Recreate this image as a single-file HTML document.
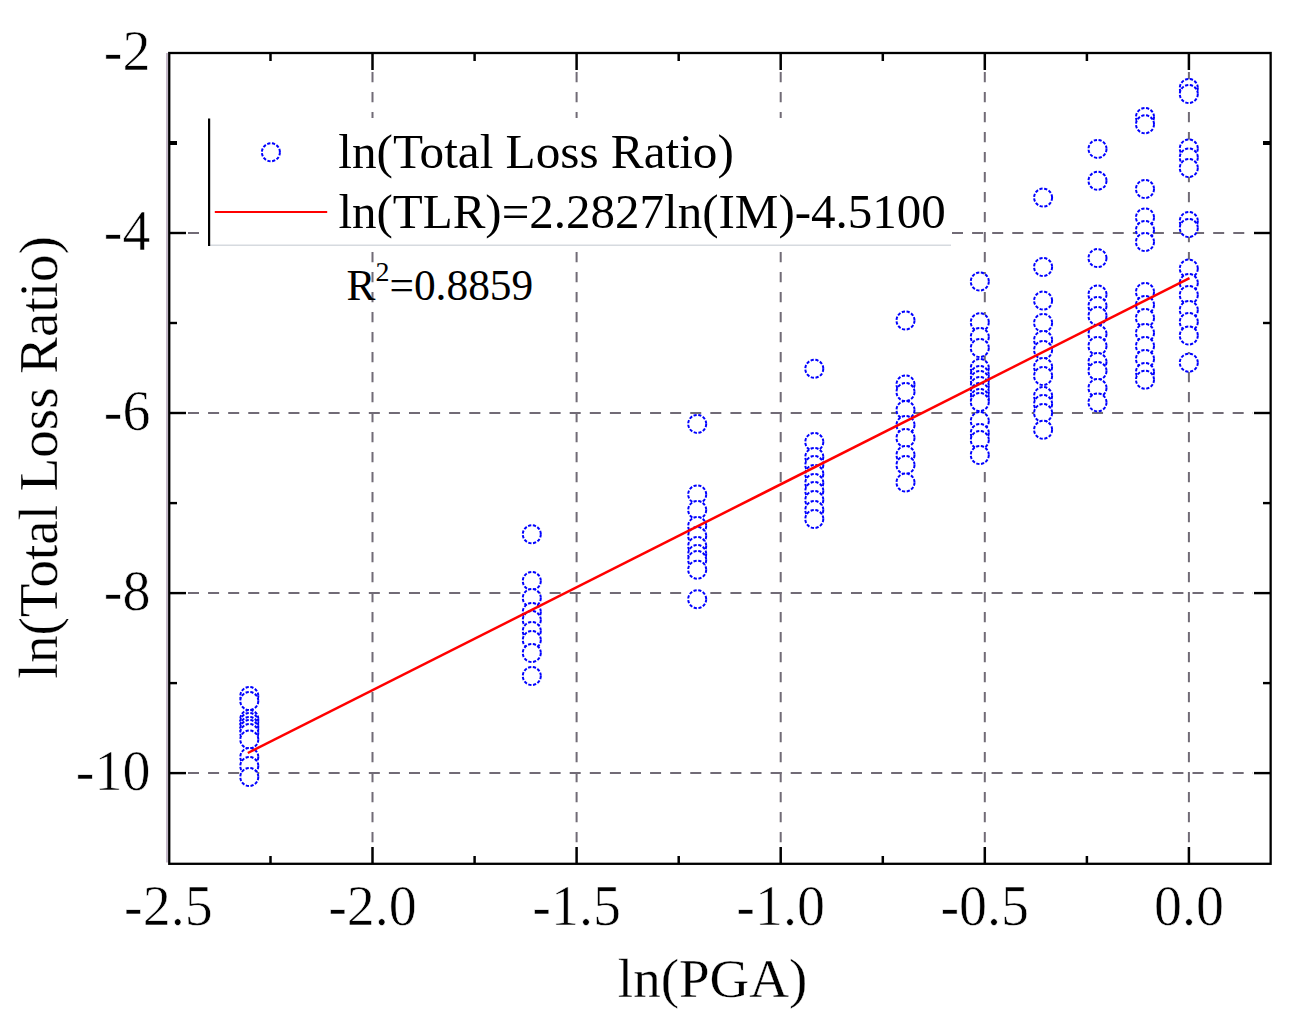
<!DOCTYPE html>
<html><head><meta charset="utf-8"><style>
html,body{margin:0;padding:0;background:#fff;width:1304px;height:1026px;overflow:hidden;}
svg{display:block;}
</style></head><body>
<svg width="1304" height="1026" viewBox="0 0 1304 1026">
<rect width="100%" height="100%" fill="#ffffff"/>
<line x1="372.5" y1="72" x2="372.5" y2="846" stroke="#716b76" stroke-width="2" stroke-dasharray="10.3 9.7"/>
<line x1="576.6" y1="72" x2="576.6" y2="846" stroke="#716b76" stroke-width="2" stroke-dasharray="10.3 9.7"/>
<line x1="780.7" y1="72" x2="780.7" y2="846" stroke="#716b76" stroke-width="2" stroke-dasharray="10.3 9.7"/>
<line x1="984.8" y1="72" x2="984.8" y2="846" stroke="#716b76" stroke-width="2" stroke-dasharray="10.3 9.7"/>
<line x1="1188.9" y1="72" x2="1188.9" y2="846" stroke="#716b76" stroke-width="2" stroke-dasharray="10.3 9.7"/>
<line x1="188" y1="233.0" x2="199" y2="233.0" stroke="#716b76" stroke-width="2"/>
<line x1="952" y1="233.0" x2="1253" y2="233.0" stroke="#716b76" stroke-width="2" stroke-dasharray="11 9.09"/>
<line x1="188" y1="413.0" x2="1253" y2="413.0" stroke="#716b76" stroke-width="2" stroke-dasharray="11 9.09"/>
<line x1="188" y1="593.1" x2="1253" y2="593.1" stroke="#716b76" stroke-width="2" stroke-dasharray="11 9.09"/>
<line x1="188" y1="773.1" x2="1253" y2="773.1" stroke="#716b76" stroke-width="2" stroke-dasharray="11 9.09"/>
<rect x="209" y="118" width="742" height="127.5" fill="#ffffff"/>
<line x1="210" y1="245.3" x2="951" y2="245.3" stroke="#d6dadf" stroke-width="1.5"/>
<line x1="209.1" y1="118.5" x2="209.1" y2="246" stroke="#000" stroke-width="2.2"/>
<line x1="169" y1="143.0" x2="177" y2="143.0" stroke="#000" stroke-width="4"/>
<line x1="1263" y1="143.0" x2="1271" y2="143.0" stroke="#000" stroke-width="4"/>
<line x1="169" y1="233.0" x2="186" y2="233.0" stroke="#000" stroke-width="2.4"/>
<line x1="1254" y1="233.0" x2="1271" y2="233.0" stroke="#000" stroke-width="2.4"/>
<line x1="169" y1="323.0" x2="177" y2="323.0" stroke="#000" stroke-width="2.4"/>
<line x1="1263" y1="323.0" x2="1271" y2="323.0" stroke="#000" stroke-width="2.4"/>
<line x1="169" y1="413.0" x2="186" y2="413.0" stroke="#000" stroke-width="2.4"/>
<line x1="1254" y1="413.0" x2="1271" y2="413.0" stroke="#000" stroke-width="2.4"/>
<line x1="169" y1="503.1" x2="177" y2="503.1" stroke="#000" stroke-width="2.4"/>
<line x1="1263" y1="503.1" x2="1271" y2="503.1" stroke="#000" stroke-width="2.4"/>
<line x1="169" y1="593.1" x2="186" y2="593.1" stroke="#000" stroke-width="2.4"/>
<line x1="1254" y1="593.1" x2="1271" y2="593.1" stroke="#000" stroke-width="2.4"/>
<line x1="169" y1="683.1" x2="177" y2="683.1" stroke="#000" stroke-width="2.4"/>
<line x1="1263" y1="683.1" x2="1271" y2="683.1" stroke="#000" stroke-width="2.4"/>
<line x1="169" y1="773.1" x2="186" y2="773.1" stroke="#000" stroke-width="2.4"/>
<line x1="1254" y1="773.1" x2="1271" y2="773.1" stroke="#000" stroke-width="2.4"/>
<line x1="270.5" y1="53" x2="270.5" y2="61" stroke="#000" stroke-width="2.5"/>
<line x1="270.5" y1="856" x2="270.5" y2="864" stroke="#000" stroke-width="2.5"/>
<line x1="372.5" y1="53" x2="372.5" y2="70" stroke="#000" stroke-width="2.5"/>
<line x1="372.5" y1="847" x2="372.5" y2="864" stroke="#000" stroke-width="2.5"/>
<line x1="474.6" y1="53" x2="474.6" y2="61" stroke="#000" stroke-width="2.5"/>
<line x1="474.6" y1="856" x2="474.6" y2="864" stroke="#000" stroke-width="2.5"/>
<line x1="576.6" y1="53" x2="576.6" y2="70" stroke="#000" stroke-width="2.5"/>
<line x1="576.6" y1="847" x2="576.6" y2="864" stroke="#000" stroke-width="2.5"/>
<line x1="678.7" y1="53" x2="678.7" y2="61" stroke="#000" stroke-width="2.5"/>
<line x1="678.7" y1="856" x2="678.7" y2="864" stroke="#000" stroke-width="2.5"/>
<line x1="780.7" y1="53" x2="780.7" y2="70" stroke="#000" stroke-width="2.5"/>
<line x1="780.7" y1="847" x2="780.7" y2="864" stroke="#000" stroke-width="2.5"/>
<line x1="882.8" y1="53" x2="882.8" y2="61" stroke="#000" stroke-width="2.5"/>
<line x1="882.8" y1="856" x2="882.8" y2="864" stroke="#000" stroke-width="2.5"/>
<line x1="984.8" y1="53" x2="984.8" y2="70" stroke="#000" stroke-width="2.5"/>
<line x1="984.8" y1="847" x2="984.8" y2="864" stroke="#000" stroke-width="2.5"/>
<line x1="1086.9" y1="53" x2="1086.9" y2="61" stroke="#000" stroke-width="2.5"/>
<line x1="1086.9" y1="856" x2="1086.9" y2="864" stroke="#000" stroke-width="2.5"/>
<line x1="1188.9" y1="53" x2="1188.9" y2="70" stroke="#000" stroke-width="2.5"/>
<line x1="1188.9" y1="847" x2="1188.9" y2="864" stroke="#000" stroke-width="2.5"/>
<line x1="167" y1="53" x2="167" y2="862.5" stroke="#c4b8c8" stroke-width="2"/>
<rect x="169.25" y="53" width="1101.4" height="810.8" fill="none" stroke="#000" stroke-width="2.3"/>
<g fill="#ffffff" stroke="#0000ff" stroke-width="2" stroke-dasharray="3.2 1.6">
<circle cx="249.3" cy="696" r="9"/>
<circle cx="249.3" cy="701" r="9"/>
<circle cx="249.3" cy="719" r="9"/>
<circle cx="249.3" cy="722" r="9"/>
<circle cx="249.3" cy="726" r="9"/>
<circle cx="249.3" cy="729" r="9"/>
<circle cx="249.3" cy="733" r="9"/>
<circle cx="249.3" cy="739.5" r="9"/>
<circle cx="249.3" cy="757" r="9"/>
<circle cx="249.3" cy="766" r="9"/>
<circle cx="249.3" cy="777" r="9"/>
<circle cx="531.8" cy="534.3" r="9"/>
<circle cx="531.8" cy="581" r="9"/>
<circle cx="531.8" cy="598" r="9"/>
<circle cx="531.8" cy="612" r="9"/>
<circle cx="531.8" cy="620" r="9"/>
<circle cx="531.8" cy="631" r="9"/>
<circle cx="531.8" cy="640" r="9"/>
<circle cx="531.8" cy="653" r="9"/>
<circle cx="531.8" cy="676" r="9"/>
<circle cx="697.2" cy="423.9" r="9"/>
<circle cx="697.2" cy="494.4" r="9"/>
<circle cx="697.2" cy="510" r="9"/>
<circle cx="697.2" cy="526" r="9"/>
<circle cx="697.2" cy="536" r="9"/>
<circle cx="697.2" cy="546" r="9"/>
<circle cx="697.2" cy="554" r="9"/>
<circle cx="697.2" cy="560" r="9"/>
<circle cx="697.2" cy="569.7" r="9"/>
<circle cx="697.2" cy="599.2" r="9"/>
<circle cx="814.3" cy="368.8" r="9"/>
<circle cx="814.3" cy="442" r="9"/>
<circle cx="814.3" cy="457" r="9"/>
<circle cx="814.3" cy="465" r="9"/>
<circle cx="814.3" cy="474" r="9"/>
<circle cx="814.3" cy="483" r="9"/>
<circle cx="814.3" cy="491" r="9"/>
<circle cx="814.3" cy="500" r="9"/>
<circle cx="814.3" cy="510" r="9"/>
<circle cx="814.3" cy="519" r="9"/>
<circle cx="905.5" cy="320.5" r="9"/>
<circle cx="905.5" cy="384.4" r="9"/>
<circle cx="905.5" cy="392" r="9"/>
<circle cx="905.5" cy="410" r="9"/>
<circle cx="905.5" cy="425" r="9"/>
<circle cx="905.5" cy="438" r="9"/>
<circle cx="905.5" cy="455" r="9"/>
<circle cx="905.5" cy="465" r="9"/>
<circle cx="905.5" cy="482.5" r="9"/>
<circle cx="979.8" cy="281.5" r="9"/>
<circle cx="979.8" cy="322.3" r="9"/>
<circle cx="979.8" cy="337" r="9"/>
<circle cx="979.8" cy="348" r="9"/>
<circle cx="979.8" cy="368" r="9"/>
<circle cx="979.8" cy="375" r="9"/>
<circle cx="979.8" cy="380" r="9"/>
<circle cx="979.8" cy="386" r="9"/>
<circle cx="979.8" cy="392" r="9"/>
<circle cx="979.8" cy="398" r="9"/>
<circle cx="979.8" cy="402" r="9"/>
<circle cx="979.8" cy="421" r="9"/>
<circle cx="979.8" cy="433" r="9"/>
<circle cx="979.8" cy="440" r="9"/>
<circle cx="979.8" cy="455" r="9"/>
<circle cx="1043.1" cy="197.6" r="9"/>
<circle cx="1043.1" cy="267" r="9"/>
<circle cx="1043.1" cy="300.6" r="9"/>
<circle cx="1043.1" cy="322.9" r="9"/>
<circle cx="1043.1" cy="340" r="9"/>
<circle cx="1043.1" cy="350" r="9"/>
<circle cx="1043.1" cy="367" r="9"/>
<circle cx="1043.1" cy="376" r="9"/>
<circle cx="1043.1" cy="396" r="9"/>
<circle cx="1043.1" cy="404" r="9"/>
<circle cx="1043.1" cy="413" r="9"/>
<circle cx="1043.1" cy="429.8" r="9"/>
<circle cx="1097.5" cy="148.9" r="9"/>
<circle cx="1097.5" cy="180.8" r="9"/>
<circle cx="1097.5" cy="258.1" r="9"/>
<circle cx="1097.5" cy="294.5" r="9"/>
<circle cx="1097.5" cy="306" r="9"/>
<circle cx="1097.5" cy="316" r="9"/>
<circle cx="1097.5" cy="334" r="9"/>
<circle cx="1097.5" cy="346" r="9"/>
<circle cx="1097.5" cy="362" r="9"/>
<circle cx="1097.5" cy="371" r="9"/>
<circle cx="1097.5" cy="388" r="9"/>
<circle cx="1097.5" cy="402.4" r="9"/>
<circle cx="1145.0" cy="117" r="9"/>
<circle cx="1145.0" cy="124.3" r="9"/>
<circle cx="1145.0" cy="189" r="9"/>
<circle cx="1145.0" cy="217.4" r="9"/>
<circle cx="1145.0" cy="230" r="9"/>
<circle cx="1145.0" cy="242" r="9"/>
<circle cx="1145.0" cy="292" r="9"/>
<circle cx="1145.0" cy="305" r="9"/>
<circle cx="1145.0" cy="318" r="9"/>
<circle cx="1145.0" cy="333" r="9"/>
<circle cx="1145.0" cy="346" r="9"/>
<circle cx="1145.0" cy="359" r="9"/>
<circle cx="1145.0" cy="372" r="9"/>
<circle cx="1145.0" cy="379.7" r="9"/>
<circle cx="1188.8" cy="88" r="9"/>
<circle cx="1188.8" cy="94" r="9"/>
<circle cx="1188.8" cy="148.5" r="9"/>
<circle cx="1188.8" cy="157.5" r="9"/>
<circle cx="1188.8" cy="168" r="9"/>
<circle cx="1188.8" cy="221" r="9"/>
<circle cx="1188.8" cy="228" r="9"/>
<circle cx="1188.8" cy="268.6" r="9"/>
<circle cx="1188.8" cy="283" r="9"/>
<circle cx="1188.8" cy="295" r="9"/>
<circle cx="1188.8" cy="310" r="9"/>
<circle cx="1188.8" cy="322" r="9"/>
<circle cx="1188.8" cy="335.5" r="9"/>
<circle cx="1188.8" cy="362.7" r="9"/>
</g>
<line x1="247.8" y1="753.0" x2="1189.5" y2="278.2" stroke="#ff0000" stroke-width="2.5"/>
<circle cx="270.9" cy="152.3" r="9" fill="none" stroke="#0000ff" stroke-width="2" stroke-dasharray="3.2 1.6"/>
<line x1="214.8" y1="212" x2="327.2" y2="212" stroke="#ff0000" stroke-width="2.2"/>
<text x="150.5" y="69.7" font-size="56" text-anchor="end" font-family='"Liberation Serif", serif' fill="#000" stroke="#fff" stroke-width="0.6">-2</text>
<text x="150.5" y="249.7" font-size="56" text-anchor="end" font-family='"Liberation Serif", serif' fill="#000" stroke="#fff" stroke-width="0.6">-4</text>
<text x="150.5" y="429.7" font-size="56" text-anchor="end" font-family='"Liberation Serif", serif' fill="#000" stroke="#fff" stroke-width="0.6">-6</text>
<text x="150.5" y="609.8" font-size="56" text-anchor="end" font-family='"Liberation Serif", serif' fill="#000" stroke="#fff" stroke-width="0.6">-8</text>
<text x="150.5" y="789.8" font-size="56" text-anchor="end" font-family='"Liberation Serif", serif' fill="#000" stroke="#fff" stroke-width="0.6">-10</text>
<text x="168.4" y="924.8" font-size="56" text-anchor="middle" font-family='"Liberation Serif", serif' fill="#000" stroke="#fff" stroke-width="0.6">-2.5</text>
<text x="372.5" y="924.8" font-size="56" text-anchor="middle" font-family='"Liberation Serif", serif' fill="#000" stroke="#fff" stroke-width="0.6">-2.0</text>
<text x="576.6" y="924.8" font-size="56" text-anchor="middle" font-family='"Liberation Serif", serif' fill="#000" stroke="#fff" stroke-width="0.6">-1.5</text>
<text x="780.7" y="924.8" font-size="56" text-anchor="middle" font-family='"Liberation Serif", serif' fill="#000" stroke="#fff" stroke-width="0.6">-1.0</text>
<text x="984.8" y="924.8" font-size="56" text-anchor="middle" font-family='"Liberation Serif", serif' fill="#000" stroke="#fff" stroke-width="0.6">-0.5</text>
<text x="1188.9" y="924.8" font-size="56" text-anchor="middle" font-family='"Liberation Serif", serif' fill="#000" stroke="#fff" stroke-width="0.6">0.0</text>
<text x="712.6" y="997.4" font-size="55" text-anchor="middle" font-family='"Liberation Serif", serif' fill="#000" stroke="#fff" stroke-width="0.3">ln(PGA)</text>
<text transform="translate(56.5,457.3) rotate(-90)" x="0" y="0" font-size="55" text-anchor="middle" font-family='"Liberation Serif", serif' fill="#000" stroke="#fff" stroke-width="0.3">ln(Total Loss Ratio)</text>
<text x="338.3" y="168.3" font-size="49.2" font-family='"Liberation Serif", serif' fill="#000">ln(Total Loss Ratio)</text>
<text x="338.4" y="227.9" font-size="49.0" font-family='"Liberation Serif", serif' fill="#000">ln(TLR)=2.2827ln(IM)-4.5100</text>
<text x="346.5" y="299.8" font-size="43.4" font-family='"Liberation Serif", serif' fill="#000">R<tspan font-size="28" dy="-18.6">2</tspan><tspan dy="18.6">=0.8859</tspan></text>
</svg>
</body></html>
